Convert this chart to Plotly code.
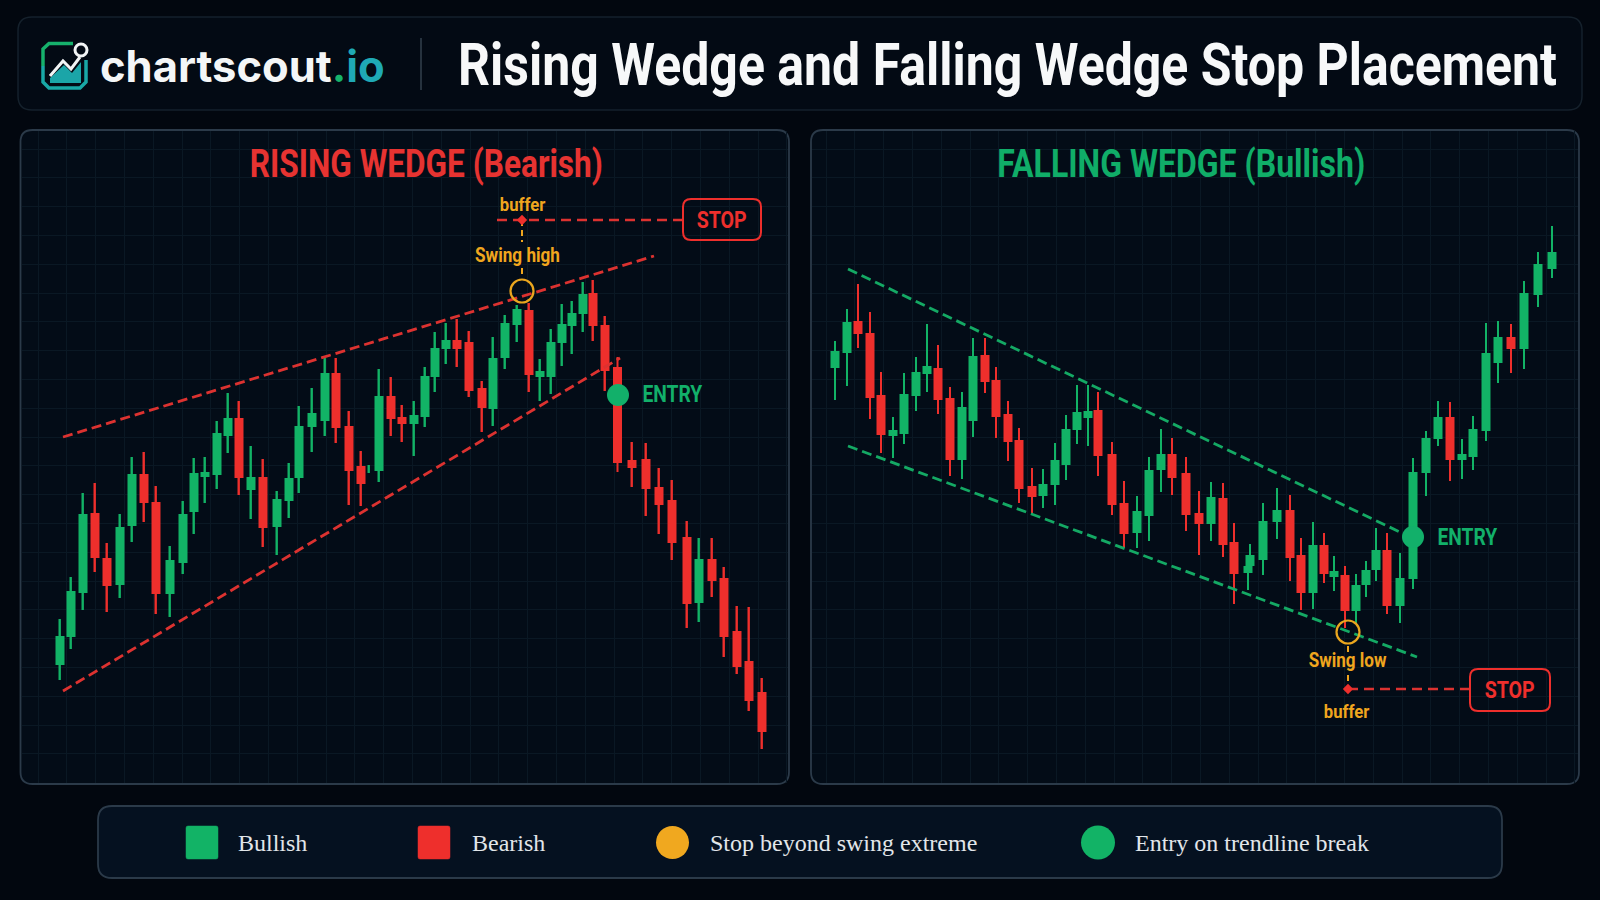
import json
import plotly.graph_objects as go

# ---------- data ----------
rise_x = [60,71,83,95,107,120,132,144,156,170,183,194,205,217,228,239,251,263,277,289,299,312,325,336,349,361,369,379,391,402,414,425,435,446,457,469,482,493,505,517,529,540,551,562,572,583,593,605,617.5,632,646,659,672,687,699,712,724,737,749,762]
rise_open = [235,263,307,387,342,315,374,426,398,306,337,388,423,425,464,482,410,423,373,399,422,473,479,527,474,434,431,429,504,483,476,483,523,551,560,558,512,491,542,575,590,523,523,557,574,586,607,575,533,440,441,413,400,363,297,341,322,269,239,208]
rise_high = [281,323,407,417,357,386,443,448,414,354,399,442,443,479,507,499,454,441,409,437,494,512,542,542,489,449,435,531,523,495,499,533,568,577,581,569,519,563,585,595,597,541,571,596,599,618,620,584,543,458,457,432,420,379,362,362,333,294,293,222]
rise_low = [220,251,290,328,288,302,358,378,286,283,326,366,397,411,447,405,381,353,345,382,407,448,464,457,395,394,427,418,464,458,444,473,508,536,533,503,468,474,531,558,508,499,506,534,546,568,559,509,428,413,384,366,340,272,278,303,243,226,189,151]
rise_close = [264,309,386,342,314,373,426,397,306,340,386,427,428,467,482,422,423,372,401,422,474,487,527,472,429,416,431,504,481,476,485,524,552,560,551,509,492,542,577,591,525,529,558,576,587,606,574,529,437,432,411,395,357,296,341,319,263,233,199,168]

fall_x = [835,847,858,870,881,893,904,916,927,938,950,962,973,985,996,1008,1019,1032,1043,1055,1066,1077,1088,1098,1112,1124,1137,1149,1161,1172,1186,1199,1211,1223,1234,1248,1250,1263,1277,1290,1301,1313,1324,1334,1345,1356,1366,1376,1387,1400,1413,1426,1438,1450,1462,1473,1486,1498,1511,1524,1538,1552]
fall_open = [532,547,579,567,505,464,466,504,526,532,502,440,479,545,520,486,460,414,404,415,435,470,482,490,446,397,367,384,430,446,427,387,376,402,358,327,334,340,378,390,345,307,355,323,325,289,315,330,350,294,321,427,461,483,440,443,469,537,563,551,605,631]
fall_high = [559,591,616,588,528,483,527,543,576,555,513,508,562,562,533,499,472,432,431,457,485,515,515,508,458,419,404,443,471,462,443,409,418,417,377,334,356,397,412,405,362,378,367,344,334,326,339,372,367,347,442,469,499,498,461,484,577,579,576,619,648,674]
fall_low = [500,514,552,481,447,442,456,489,508,486,424,421,463,507,462,439,397,386,392,395,420,456,454,424,385,352,352,359,408,405,369,345,359,343,296,310,334,325,361,319,290,291,317,309,272,277,303,319,286,277,311,404,454,419,421,430,459,517,527,531,593,622]
fall_close = [549,578,566,502,465,470,506,528,534,500,440,493,544,518,483,458,411,403,416,440,471,488,489,444,395,366,389,430,446,422,385,376,403,355,326,334,345,379,390,342,307,355,326,329,289,315,330,350,294,322,428,462,483,440,446,471,547,563,551,607,636,648]

rise_upper_x, rise_upper_y = [63, 654], [463, 644]
rise_lower_x, rise_lower_y = [63, 620], [209, 542]
fall_upper_x, fall_upper_y = [848, 1402], [631, 367]
fall_lower_x, fall_lower_y = [848, 1417], [454, 243]

rise_entry = (618, 505); fall_entry = (1413, 363)
rise_swing = (522, 609); fall_swing = (1348, 268)
rise_stop = 680; fall_stop = 211

GREEN, RED, AMBER = "#12b366", "#ee2f2c", "#f0a61e"
DASH_RED, DASH_GREEN, ENTRY_GREEN = "#dc3230", "#14a964", "#12b06a"

# ---------- helpers ----------
def fx(px): return px / 1600
def fy(py): return 1 - py / 900

def rr_path(x0, y0, x1, y1, r):
    P = lambda x, y: f"{fx(x):.5f},{fy(y):.5f}"
    return (f"M{P(x0+r,y0)} L{P(x1-r,y0)} Q{P(x1,y0)} {P(x1,y0+r)} L{P(x1,y1-r)} "
            f"Q{P(x1,y1)} {P(x1-r,y1)} L{P(x0+r,y1)} Q{P(x0,y1)} {P(x0,y1-r)} L{P(x0,y0+r)} Q{P(x0,y0)} {P(x0+r,y0)} Z")

def poly(points, closed=False):
    s = "M" + " L".join(f"{fx(x):.5f},{fy(y):.5f}" for x, y in points)
    return s + (" Z" if closed else "")

shapes, notes = [], []

def rrect(x0, y0, x1, y1, r, fill, line, w=1.5, layer="below"):
    shapes.append(dict(type="path", path=rr_path(x0, y0, x1, y1, r), xref="paper", yref="paper",
                       fillcolor=fill, line=dict(color=line, width=w), layer=layer))

def circ(cx, cy, r, fill, line=None, w=0, layer="above"):
    shapes.append(dict(type="circle", xref="paper", yref="paper", x0=fx(cx-r), x1=fx(cx+r), y0=fy(cy+r), y1=fy(cy-r),
                       fillcolor=fill, line=dict(color=line or fill, width=w), layer=layer))

def text(s, x, y, size, color, family, weight=400, anchor="center"):
    notes.append(dict(text=s, x=fx(x), y=fy(y), xref="paper", yref="paper", showarrow=False, xanchor=anchor, yanchor="middle",
                      font=dict(size=size, color=color, family=family, weight=weight), borderpad=0))

COND = "Roboto"
SERIF = "Liberation Serif"
# condensed look: rendered widths of the narrow headline texts, in pixels
narrow_widths = {
    "Rising Wedge and Falling Wedge Stop Placement": 1099,
    "RISING WEDGE (Bearish)": 353,
    "FALLING WEDGE (Bullish)": 368,
    "buffer": 46, "Swing high": 85, "Swing low": 78, "ENTRY": 60, "STOP": 50,
}

# page furniture
rrect(18, 17, 1582, 110, 14, "#030a14", "#15212c", 1.5)
rrect(20.5, 130, 789, 784, 12, "#030c17", "#2b3a49", 1.8)
rrect(811, 130, 1579, 784, 12, "#030c17", "#2b3a49", 1.8)
rrect(98, 806, 1502, 878, 14, "#051120", "#2b3a49", 1.8)
shapes.append(dict(type="line", xref="paper", yref="paper", x0=fx(421), x1=fx(421), y0=fy(38), y1=fy(90),
                   line=dict(color="#33404c", width=1.5), layer="below"))

# logo
shapes.append(dict(type="path", xref="paper", yref="paper",
                   path=poly([(50,78),(64,65),(72,73),(81,62),(81,83),(50,83)], True),
                   fillcolor="#1ba5a8", line=dict(width=0), layer="above"))
shapes.append(dict(type="path", xref="paper", yref="paper",
                   path=poly([(73,43.5),(49,43.5),(43,49),(43,66)]),
                   line=dict(color="#16b16c", width=3.5), layer="above"))
shapes.append(dict(type="path", xref="paper", yref="paper",
                   path=poly([(43,66),(43,82),(49,88),(80,88),(86,82),(86,60)]),
                   line=dict(color="#19a8a6", width=3.5), layer="above"))
shapes.append(dict(type="path", xref="paper", yref="paper",
                   path=poly([(50,76),(63,61),(71,69),(80,57)]),
                   line=dict(color="#f2f4f5", width=3), layer="above"))
circ(81, 50, 6, "#030a14", "#f2f4f5", 3)

text('chartscout<span style="color:#17b26a">.</span><span style="color:#1fa9b5">io</span>', 99, 66, 43.5, "#f4f6f7", "Inter", 700, "left")
text("Rising Wedge and Falling Wedge Stop Placement", 1007, 64, 60, "#f7f8f9", COND, 700)
text("RISING WEDGE (Bearish)", 426.5, 164, 38, "#e63331", COND, 700)
text("FALLING WEDGE (Bullish)", 1181, 164, 38, "#10ad68", COND, 700)

# annotations inside the panels
text("buffer", 523, 205, 18, AMBER, COND, 700)
text("Swing high", 517, 255, 20, AMBER, COND, 700)
text("ENTRY", 672, 394, 24, ENTRY_GREEN, COND, 700)
rrect(683, 199, 761, 240, 8, "rgba(0,0,0,0)", RED, 2, "above")
text("STOP", 721, 220, 24, RED, COND, 700)

text("Swing low", 1347, 660, 20, AMBER, COND, 700)
text("buffer", 1347, 711, 18, AMBER, COND, 700)
text("ENTRY", 1467, 537, 24, ENTRY_GREEN, COND, 700)
rrect(1470, 669, 1550, 711, 8, "rgba(0,0,0,0)", RED, 2, "above")
text("STOP", 1509, 690, 24, RED, COND, 700)

# legend
for x0, col in ((186, GREEN), (418, RED)):
    rrect(x0, 826, x0 + 32, 859, 2, col, col, 0.5)
circ(672.5, 842.5, 16.5, "#f0a81f")
circ(1098, 842.5, 17, GREEN)
for s, x in (("Bullish", 237), ("Bearish", 471), ("Stop beyond swing extreme", 709), ("Entry on trendline break", 1134)):
    text(s, x, 842.5, 24, "#e2e6ea", SERIF, 400, "left")

# ---------- figure ----------
fig = go.Figure()

def candles(xs, o, h, l, c, xa, ya):
    colors = [GREEN if ci >= oi else RED for oi, ci in zip(o, c)]
    fig.add_trace(go.Bar(x=xs, y=[hi - li for hi, li in zip(h, l)], base=l, width=1.8, xaxis=xa, yaxis=ya,
                         marker=dict(color=colors, line=dict(width=0)), hoverinfo="skip", showlegend=False))
    fig.add_trace(go.Bar(x=xs, y=[abs(ci - oi) for oi, ci in zip(o, c)], base=[min(oi, ci) for oi, ci in zip(o, c)],
                         width=9, xaxis=xa, yaxis=ya,
                         marker=dict(color=colors, line=dict(width=0)), hoverinfo="skip", showlegend=False))

def line(xs, ys, color, xa, ya, dash="10px,5px", width=2.8):
    fig.add_trace(go.Scatter(x=xs, y=ys, mode="lines", line=dict(color=color, width=width, dash=dash),
                             xaxis=xa, yaxis=ya, hoverinfo="skip", showlegend=False))

def dot(pt, color, size, xa, ya, ring=False, symbol="circle"):
    m = dict(size=size, color="rgba(0,0,0,0)" if ring else color, symbol=symbol,
             line=dict(color=color, width=2.2 if ring else 0))
    fig.add_trace(go.Scatter(x=[pt[0]], y=[pt[1]], mode="markers", marker=m, xaxis=xa, yaxis=ya,
                             hoverinfo="skip", showlegend=False))

candles(rise_x, rise_open, rise_high, rise_low, rise_close, "x", "y")
line(rise_upper_x, rise_upper_y, DASH_RED, "x", "y")
line(rise_lower_x, rise_lower_y, DASH_RED, "x", "y")
line([497, 682], [rise_stop, rise_stop], DASH_RED, "x", "y", "10px,6px", 2.4)
line([rise_swing[0], rise_swing[0]], [rise_stop, 658], AMBER, "x", "y", "6px,4px", 2)
line([rise_swing[0], rise_swing[0]], [632, 622], AMBER, "x", "y", "6px,4px", 2)
dot((rise_swing[0], rise_stop), RED, 8, "x", "y", symbol="diamond")
dot(rise_swing, "#eaa61e", 23, "x", "y", ring=True)
dot(rise_entry, ENTRY_GREEN, 22, "x", "y")

candles(fall_x, fall_open, fall_high, fall_low, fall_close, "x2", "y2")
line(fall_upper_x, fall_upper_y, DASH_GREEN, "x2", "y2")
line(fall_lower_x, fall_lower_y, DASH_GREEN, "x2", "y2")
line([1348, 1470], [fall_stop, fall_stop], DASH_RED, "x2", "y2", "10px,6px", 2.4)
line([fall_swing[0], fall_swing[0]], [254, 247], AMBER, "x2", "y2", "6px,4px", 2)
line([fall_swing[0], fall_swing[0]], [225, fall_stop], AMBER, "x2", "y2", "6px,4px", 2)
dot((fall_swing[0], fall_stop), RED, 8, "x2", "y2", symbol="diamond")
dot(fall_swing, "#eaa61e", 23, "x2", "y2", ring=True)
dot(fall_entry, ENTRY_GREEN, 22, "x2", "y2")

grid = "#0a1824"
def ax(rng, dom, tick0, dtick, anchor):
    return dict(range=rng, domain=dom, tick0=tick0, dtick=dtick, showgrid=True, gridcolor=grid, gridwidth=1,
                zeroline=False, showline=False, showticklabels=False, ticks="", anchor=anchor, fixedrange=True)

fig.update_layout(
    width=1600, height=900, autosize=False,
    margin=dict(l=0, r=0, t=0, b=0),
    paper_bgcolor="#02070f", plot_bgcolor="rgba(0,0,0,0)",
    barmode="overlay", showlegend=False,
    shapes=shapes, annotations=notes,
    xaxis=ax([21.5, 788], [fx(21.5), fx(788)], 38, 28.8, "y"),
    yaxis=ax([117, 769], [fy(783), fy(131)], 751, 28.8, "x"),
    xaxis2=ax([812, 1578], [fx(812), fx(1578)], 826, 28.8, "y2"),
    yaxis2=ax([117, 769], [fy(783), fy(131)], 751, 28.8, "x2"),
)

post = """
document.documentElement.style.margin='0';
document.body.style.margin='0';
document.body.style.background='#02070f';
var widths = %s;
document.querySelectorAll('.annotation-text').forEach(function(t){
  var w = widths[t.textContent];
  if (!w) return;
  var b = t.getBBox(), cx = b.x + b.width / 2, s = w / b.width;
  t.setAttribute('transform', 'translate(' + cx + ' 0) scale(' + s + ' 1) translate(' + (-cx) + ' 0)');
  var r = t.parentNode.querySelector('rect');
  if (r) { r.setAttribute('x', cx - w / 2); r.setAttribute('width', w); }
});
""" % json.dumps(narrow_widths)
fig.write_html("out.html", config=dict(displayModeBar=False), post_script=post)
